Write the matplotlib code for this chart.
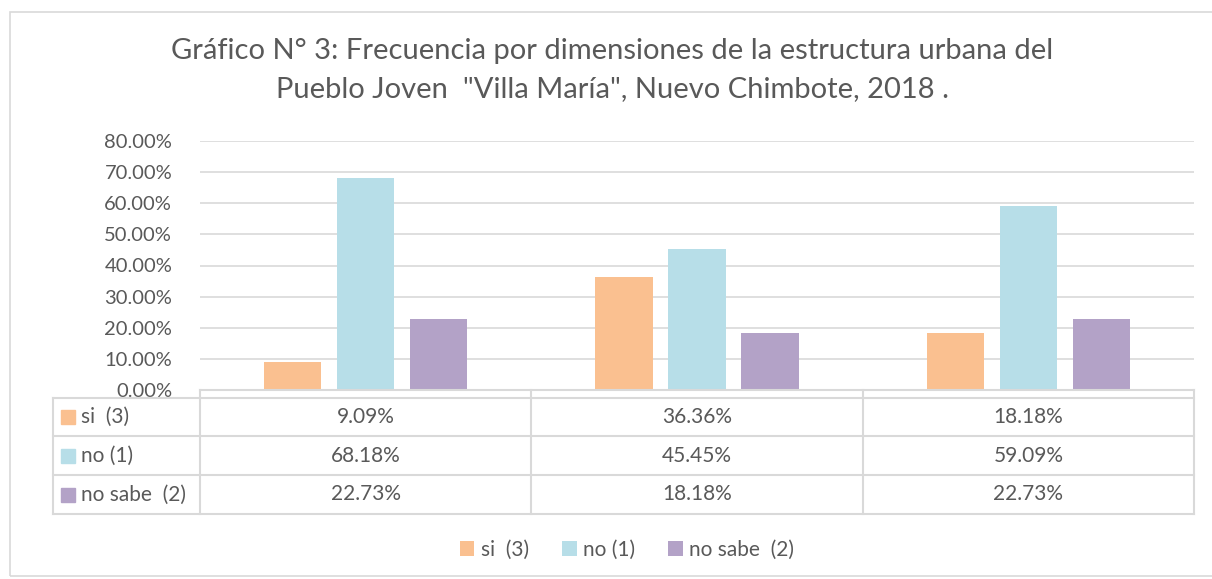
import matplotlib
matplotlib.use("Agg")
import matplotlib.pyplot as plt
from matplotlib.patches import Rectangle

plt.rcParams['font.family'] = ['Lato', 'DejaVu Sans']

title = 'Gráfico N° 3: Frecuencia por dimensiones de la estructura urbana del\nPueblo Joven  "Villa María", Nuevo Chimbote, 2018 .'
categories = ['', '', '']
series_names = ['si  (3)', 'no (1)', 'no sabe  (2)']
si_vals = [9.09, 36.36, 18.18]
no_vals = [68.18, 45.45, 59.09]
nosabe_vals = [22.73, 18.18, 22.73]
yticks = [0, 10, 20, 30, 40, 50, 60, 70, 80]
colors = ['#FAC090', '#B7DEE8', '#B3A2C7']
series = [si_vals, no_vals, nosabe_vals]

W, H = 1212, 579
fig = plt.figure(figsize=(W / 100, H / 100), dpi=100)
txt = '#595959'
grid = '#D9D9D9'

def fx(px):
    return px / W

def fy(py):
    return 1 - py / H

# outer chart frame
fig.add_artist(Rectangle((fx(10), fy(576)), fx(1212 - 10 + 5), fy(12) - fy(576),
                         transform=fig.transFigure, fill=False, ec='#D9D9D9', lw=1.2))

fig.text(0.505, fy(70), title, ha='center', va='center', fontsize=21,
         color=txt, linespacing=1.6)

# main plot axes
x0, x1 = 200, 1194
y0, ytop = 390, 141
ax = fig.add_axes([fx(x0), fy(y0), fx(x1) - fx(x0), fy(ytop) - fy(y0)])
n = len(categories)
bw = 0.173
offs = [-0.22, 0, 0.22]
for s, vals in enumerate(series):
    ax.bar([i + offs[s] for i in range(n)], vals, width=bw, color=colors[s],
           zorder=3, label=series_names[s])
ax.set_xlim(-0.5, n - 0.5)
ax.set_ylim(0, 80)
ax.set_yticks(yticks)
ax.set_yticklabels([f'{v:.2f}%' for v in yticks], fontsize=14.5, color=txt)
ax.tick_params(axis='y', length=0, pad=20)
ax.tick_params(axis='x', length=0, labelbottom=False)
ax.grid(axis='y', color=grid, lw=1.2, zorder=0)
for sp in ax.spines.values():
    sp.set_visible(False)
ax.set_xticks([])

# data table
tleft = 53
row_edges = [390, 398, 436, 475, 514]
col_edges_px = [x0 + i * (x1 - x0) / n for i in range(n + 1)]
tax = fig.add_axes([0, 0, 1, 1])
tax.set_xlim(0, W)
tax.set_ylim(H, 0)
tax.axis('off')
lc = '#D9D9D9'
lw = 1.5
tax.plot([x0, x1], [row_edges[0], row_edges[0]], color=lc, lw=lw)
for r in row_edges[1:]:
    tax.plot([tleft, x1], [r, r], color=lc, lw=lw)
tax.plot([tleft, tleft], [row_edges[1], row_edges[-1]], color=lc, lw=lw)
for c in col_edges_px:
    tax.plot([c, c], [row_edges[0], row_edges[-1]], color=lc, lw=lw)
for s, vals in enumerate(series):
    yc = (row_edges[s + 1] + row_edges[s + 2]) / 2
    tax.add_patch(Rectangle((61, yc - 7), 14, 14, color=colors[s]))
    tax.text(81, yc, series_names[s], ha='left', va='center', fontsize=15, color=txt)
    for i, v in enumerate(vals):
        xc = (col_edges_px[i] + col_edges_px[i + 1]) / 2
        tax.text(xc, yc, f'{v:.2f}%', ha='center', va='center', fontsize=15, color=txt)

# legend
leg = fig.legend(loc='center', bbox_to_anchor=(fx(627), fy(550)), ncol=3, frameon=False,
                 fontsize=15, handlelength=0.7, handleheight=0.7, columnspacing=1.6,
                 handletextpad=0.3, labelcolor=txt)

fig.savefig('out.png', dpi=100)
